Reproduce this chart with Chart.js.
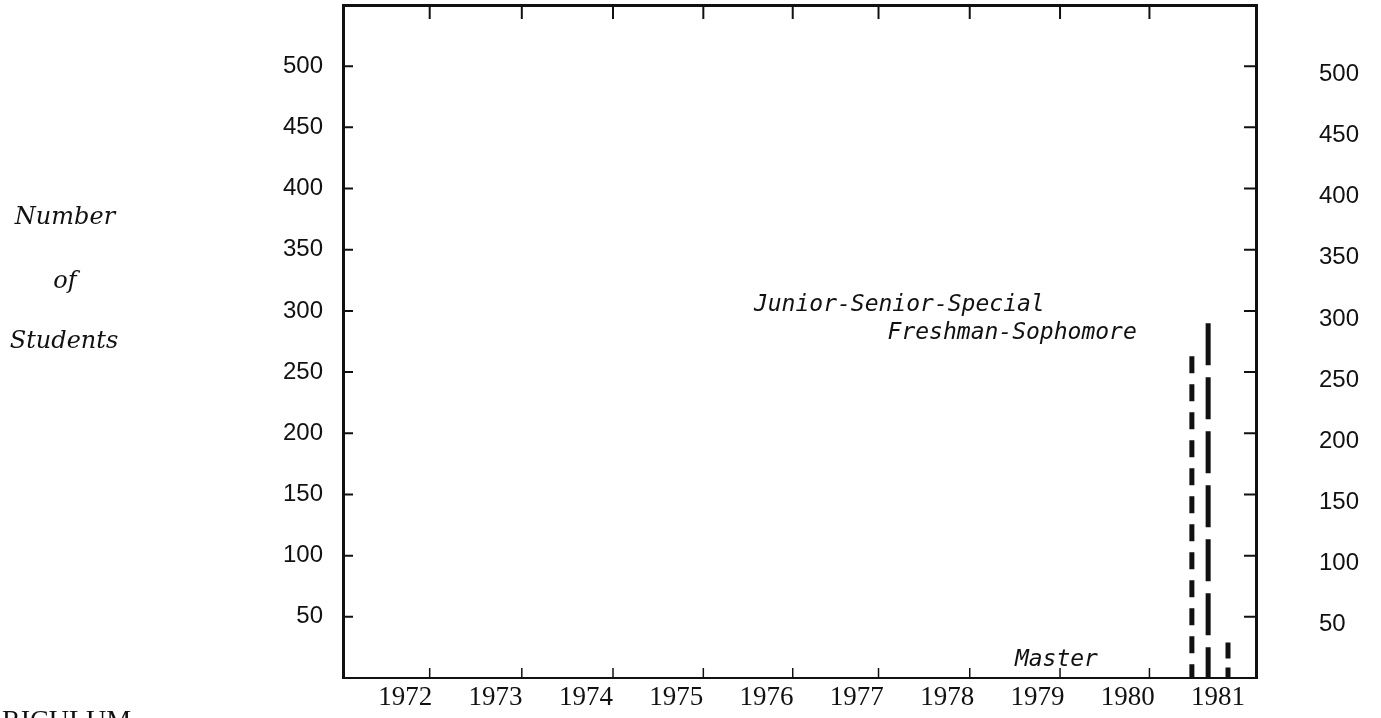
<!DOCTYPE html>
<html>
<head>
<meta charset="utf-8">
<title>Number of Students</title>
<script src="https://cdn.jsdelivr.net/npm/chart.js@4.4.1/dist/chart.umd.min.js"></script>
<style>
    html, body { margin: 0; padding: 0; background: #fff; }
    #chart { display: block; }
</style>
</head>
<body>
<canvas id="chart" width="1381" height="718"></canvas>
<script>
// Data
const years = [1972, 1973, 1974, 1975, 1976, 1977, 1978, 1979, 1980, 1981];
const yearTickMarks = [1972.27, 1973.29, 1974.30, 1975.30, 1976.29, 1977.24, 1978.25, 1979.25, 1980.24];
const studentTicks = [50, 100, 150, 200, 250, 300, 350, 400, 450, 500];

const seriesNames = ['Freshman-Sophomore', 'Junior-Senior-Special', 'Master'];
const seriesYears = [1980.71, 1980.89, 1981.11];
const seriesValues = [263, 290, 29];

// Styles
const INK = '#111';
const seriesDash = [[17, 11], [42, 12], [16, 9]];

// Fixed axis box sizes, and no extra label padding around the chart area
function fixSize(size, horizontal) {
    return scale => {
        if (horizontal) scale.height = size; else scale.width = size;
        scale.paddingTop = 0;
        scale.paddingBottom = 0;
        scale.paddingLeft = 0;
        scale.paddingRight = 0;
    };
}

// Draws inward tick marks, series names and the page text
const pageText = {
    id: 'pageText',
    afterDraw(chart, args, opts) {
        const { ctx, chartArea, scales } = chart;
        ctx.save();
        ctx.strokeStyle = INK;

        // Left / right tick marks
        ctx.lineWidth = 2;
        studentTicks.forEach(v => {
            const y = scales.y.getPixelForValue(v);
            ctx.beginPath();
            ctx.moveTo(chartArea.left, y);
            ctx.lineTo(chartArea.left + 10, y);
            ctx.moveTo(chartArea.right - 12, y);
            ctx.lineTo(chartArea.right, y);
            ctx.stroke();
        });

        // Bottom / top tick marks
        yearTickMarks.forEach(v => {
            const x = scales.x.getPixelForValue(v);
            ctx.lineWidth = 1.5;
            ctx.beginPath();
            ctx.moveTo(x, chartArea.bottom);
            ctx.lineTo(x, chartArea.bottom - 10);
            ctx.stroke();
            ctx.lineWidth = 2;
            ctx.beginPath();
            ctx.moveTo(x, chartArea.top);
            ctx.lineTo(x, chartArea.top + 14);
            ctx.stroke();
        });

        // Series names next to their bars
        ctx.fillStyle = INK;
        ctx.font = opts.labelFont;
        ctx.textAlign = 'right';
        ctx.textBaseline = 'middle';
        seriesNames.forEach((name, i) => {
            const a = opts.anchors[i];
            ctx.fillText(name, scales.x.getPixelForValue(a.x), scales.y.getPixelForValue(a.y));
        });

        // Axis title, written horizontally on three lines
        ctx.font = opts.titleFont;
        ctx.textAlign = 'center';
        opts.title.forEach(line => {
            ctx.fillText(line.text, line.x, line.y);
        });

        // Clipped text from the page underneath
        ctx.font = opts.footFont;
        ctx.textAlign = 'left';
        ctx.textBaseline = 'alphabetic';
        ctx.fillText(opts.foot.text, opts.foot.x, opts.foot.y);

        ctx.restore();
    }
};

const datasets = seriesNames.map((name, i) => ({
    label: name,
    data: [
        { x: seriesYears[i], y: seriesValues[i] },
        { x: seriesYears[i], y: 0 }
    ],
    borderColor: INK,
    borderWidth: 5,
    borderDash: seriesDash[i],
    borderCapStyle: 'butt',
    pointRadius: 0,
    fill: false
}));

const xRange = { min: 1971.31, max: 1981.42 };

new Chart(document.getElementById('chart'), {
    type: 'line',
    data: { datasets },
    plugins: [pageText],
    options: {
        responsive: false,
        animation: false,
        devicePixelRatio: 1,
        layout: { padding: 0 },
        plugins: {
            legend: { display: false },
            tooltip: { enabled: false },
            pageText: {
                labelFont: 'italic 23px "DejaVu Sans Mono"',
                titleFont: 'italic 24px "DejaVu Serif"',
                footFont: '28px "Liberation Serif"',
                anchors: [
                    { x: 1980.10, y: 282 },
                    { x: 1979.08, y: 305 },
                    { x: 1979.67, y: 15 }
                ],
                title: [
                    { text: 'Number', x: 65, y: 218 },
                    { text: 'of', x: 65, y: 282 },
                    { text: 'Students', x: 64, y: 342 }
                ],
                foot: { text: 'RICULUM', x: 2, y: 729 }
            }
        },
        scales: {
            x: {
                type: 'linear',
                position: 'bottom',
                ...xRange,
                grid: { display: false, drawTicks: false },
                border: { display: true, color: INK, width: 2 },
                afterBuildTicks: scale => { scale.ticks = years.map(v => ({ value: v })); },
                afterFit: fixSize(40, true),
                ticks: {
                    autoSkip: false,
                    maxRotation: 0,
                    padding: 4,
                    color: INK,
                    font: { family: 'Liberation Serif', size: 27 },
                    callback: v => String(v)
                }
            },
            xTop: {
                type: 'linear',
                position: 'top',
                ...xRange,
                grid: { display: false, drawTicks: false },
                border: { display: true, color: INK, width: 3 },
                ticks: { display: false },
                afterFit: fixSize(5, true)
            },
            y: {
                position: 'left',
                min: 0,
                max: 550,
                grid: { display: false, drawTicks: false },
                border: { display: true, color: INK, width: 3 },
                afterBuildTicks: scale => { scale.ticks = studentTicks.map(v => ({ value: v })); },
                afterFit: fixSize(343, false),
                ticks: {
                    padding: 20,
                    color: INK,
                    font: { family: 'Liberation Sans', size: 24 },
                    callback: v => String(v)
                }
            },
            y2: {
                position: 'right',
                min: 0,
                max: 550,
                grid: { display: false, drawTicks: false },
                border: { display: true, color: INK, width: 3 },
                afterBuildTicks: scale => { scale.ticks = studentTicks.map(v => ({ value: v })); },
                afterFit: fixSize(125, false),
                ticks: {
                    padding: 63,
                    labelOffset: 8,
                    color: INK,
                    font: { family: 'Liberation Sans', size: 24 },
                    callback: v => String(v)
                }
            }
        }
    }
});
</script>
</body>
</html>
